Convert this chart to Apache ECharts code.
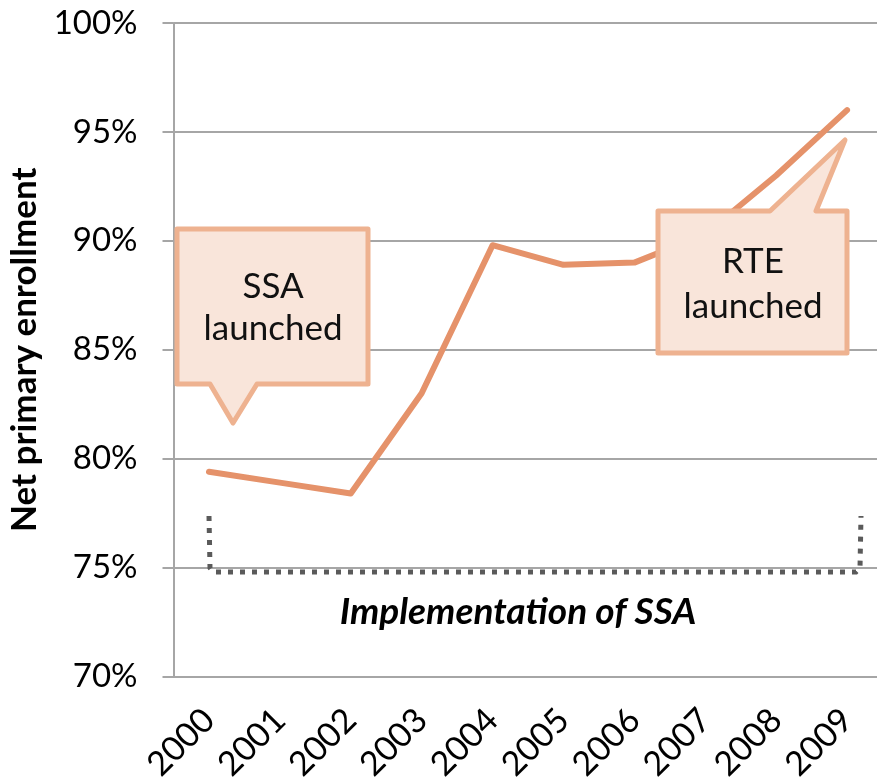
<!DOCTYPE html>
<html>
<head>
<meta charset="utf-8">
<script src="https://cdn.jsdelivr.net/npm/echarts@6/dist/echarts.min.js"></script>
<style>
html,body{margin:0;padding:0;background:#fff}
#main{width:877px;height:778px}
</style>
</head>
<body>
<div id="main"></div>
<script>
// === data ===
const years=['2000','2001','2002','2003','2004','2005','2006','2007','2008','2009'];
const enrollment=[79.4,78.9,78.4,83.0,89.8,88.9,89.0,90.3,93.0,96.0];
const yTicks={min:70,max:100,step:5};

// === colours ===
const LINE='#e5926a',CALL_STROKE='#eeb290',CALL_FILL='#f9e5da',GRID='#a6a6a6',DOTS='#5a5a5a';
const FONT='Lato';

const chart=echarts.init(document.getElementById('main'));

// callout helper: box + pointer as one polygon, text lines on top
function callout(points,cx,lines){
  var out=[{
    type:'polygon',z:10,
    shape:{points:points},
    style:{fill:CALL_FILL,stroke:CALL_STROKE,lineWidth:5,lineJoin:'round'}
  }];
  lines.forEach(function(l){
    out.push({type:'text',z:11,x:cx,y:l.y,
      style:{text:l.t,font:'35px '+FONT,fill:'#111',align:'center',verticalAlign:'middle'}});
  });
  return out;
}

const graphics=[].concat(
  callout([[177,229],[368,229],[368,384],[257,384],[233,423],[210,384],[177,384]],273,
    [{t:'SSA',y:287},{t:'launched',y:329}]),
  callout([[658,211],[770,211],[845,140],[816,211],[847,211],[847,353],[658,353]],753,
    [{t:'RTE',y:262},{t:'launched',y:307}]),
  [{
    type:'polyline',z:5,
    shape:{points:[[209,516],[210,568],[213,572],[856,572],[860,568],[861,516]]},
    style:{stroke:DOTS,lineWidth:5,lineDash:[5,7],fill:null}
  },{
    type:'text',z:5,x:518,y:612,
    style:{text:'Implementation of SSA',font:'italic bold 37px '+FONT,fill:'#000',align:'center',verticalAlign:'middle'}
  }]
);

chart.setOption({
  animation:false,
  grid:{left:173.5,top:23,width:709,height:653.5,containLabel:false,outerBoundsMode:'none'},
  xAxis:{
    type:'category',data:years,boundaryGap:true,
    axisLine:{lineStyle:{color:GRID,width:2}},
    axisTick:{length:11,lineStyle:{color:GRID,width:2}},
    axisLabel:{rotate:45,margin:38,fontFamily:FONT,fontSize:34,color:'#000',interval:0}
  },
  yAxis:{
    type:'value',min:yTicks.min,max:yTicks.max,interval:yTicks.step,
    name:'Net primary enrollment',nameLocation:'middle',nameGap:131,
    nameTextStyle:{fontFamily:FONT,fontWeight:'bold',fontSize:35,color:'#000'},
    axisLine:{show:true,lineStyle:{color:GRID,width:2}},
    axisTick:{show:true,length:11,lineStyle:{color:GRID,width:2}},
    splitLine:{lineStyle:{color:GRID,width:2}},
    axisLabel:{margin:36,fontFamily:FONT,fontSize:33,color:'#000',formatter:'{value}%'}
  },
  series:[{
    type:'line',data:enrollment,symbol:'none',z:3,
    lineStyle:{color:LINE,width:6,cap:'round',join:'round'}
  }],
  graphic:graphics
});
</script>
</body>
</html>
